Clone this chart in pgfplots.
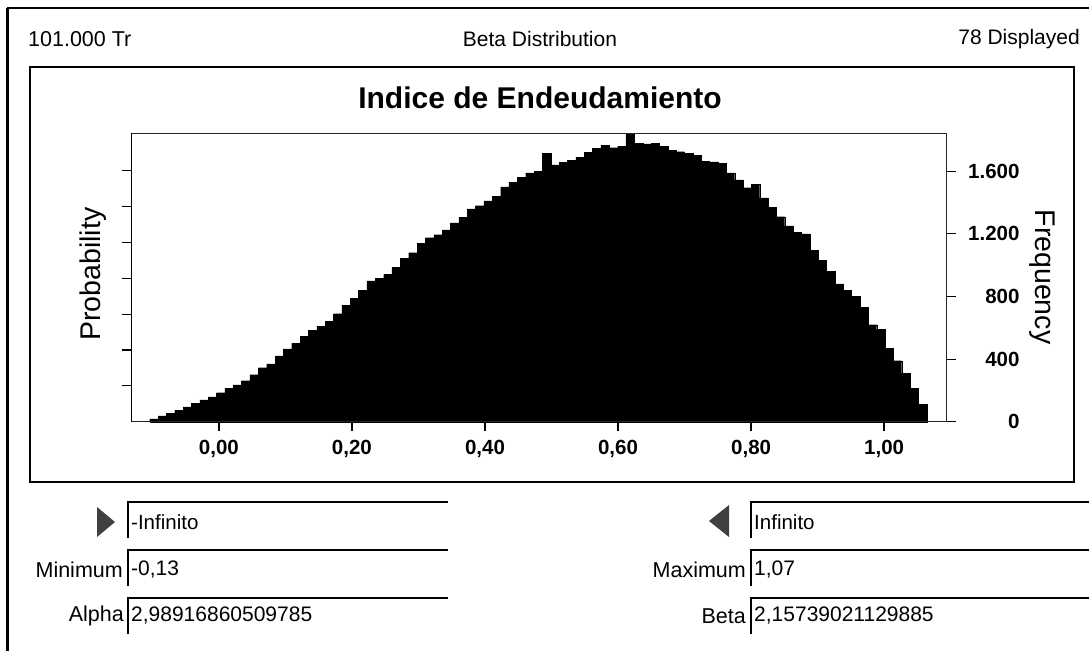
\documentclass[border=0pt]{standalone}
\usepackage{fontspec}
\setmainfont{Liberation Sans}
\usepackage{graphicx}
\usepackage{pgfplots}
\usepackage{pgfplotstable}
\pgfplotsset{compat=1.18}

\pgfplotstableread{
i f
0 18
1 38
2 55
3 72
4 95
5 118
6 140
7 158
8 185
9 215
10 235
11 262
12 300
13 345
14 370
15 420
16 465
17 500
18 545
19 585
20 610
21 640
22 690
23 745
24 790
25 840
26 900
27 915
28 940
29 985
30 1045
31 1080
32 1140
33 1175
34 1195
35 1225
36 1270
37 1305
38 1360
39 1380
40 1410
41 1440
42 1500
43 1530
44 1560
45 1590
46 1600
47 1715
48 1640
49 1655
50 1670
51 1690
52 1720
53 1745
54 1765
55 1750
56 1760
57 1842
58 1780
59 1775
60 1780
61 1760
62 1735
63 1725
64 1715
65 1700
66 1665
67 1660
68 1650
69 1590
70 1545
71 1495
72 1515
73 1430
74 1370
75 1310
76 1250
77 1210
78 1200
79 1095
80 1030
81 960
82 880
83 840
84 800
85 730
86 620
87 590
88 470
89 390
90 310
91 215
92 110
93 0
}\histdata

\begin{document}
\begin{tikzpicture}
\path[use as bounding box, fill=white] (0pt,0pt) rectangle (1089pt,-651pt);
\begin{scope}[x=1pt,y=-1pt]
  % outer window frame
  \draw[line width=3pt] (7,8) -- (7,651);
  \draw[line width=2pt] (7,8) -- (1089,8);
  % header texts
  \node[anchor=west, font=\fontsize{21.5}{21.5}\selectfont, inner sep=0pt] at (28,39) {101.000 Tr};
  \node[font=\fontsize{21}{21}\selectfont, inner sep=0pt] at (540,39) {Beta Distribution};
  \node[anchor=east, font=\fontsize{21}{21}\selectfont, inner sep=0pt] at (1080,39) {78 Displayed};
  % chart panel
  \draw[line width=1.6pt] (30,67) rectangle (1074,482);
  \node[font=\fontsize{30}{30}\selectfont\bfseries, inner sep=0pt] at (540,98) {Indice de Endeudamiento};
  % axis titles
  \node[rotate=90, font=\fontsize{28.5}{28.5}\selectfont, inner sep=0pt] at (93,274) {Probability};
  \node[rotate=-90, font=\fontsize{28.5}{28.5}\selectfont, inner sep=0pt] at (1042,277) {Frequency};
  % bottom controls, left column
  \fill[black!75] (97,507) -- (115,522) -- (97,537) -- cycle;
  \draw[line width=2pt] (128,538) -- (128,502) -- (448,502);
  \node[anchor=west, font=\fontsize{20.5}{20.5}\selectfont, inner sep=0pt] at (131,522) {-Infinito};
  \node[anchor=east, font=\fontsize{21.5}{21.5}\selectfont, inner sep=0pt] at (123,570) {Minimum};
  \draw[line width=2pt] (128,586) -- (128,550) -- (448,550);
  \node[anchor=west, font=\fontsize{21}{21}\selectfont, inner sep=0pt] at (131,570) {-0,13};
  \node[anchor=east, font=\fontsize{21.5}{21.5}\selectfont, inner sep=0pt] at (124,616) {Alpha};
  \draw[line width=2pt] (128,634) -- (128,598) -- (448,598);
  \node[anchor=west, font=\fontsize{21}{21}\selectfont, inner sep=0pt] at (131,616) {2,98916860509785};
  % bottom controls, right column
  \fill[black!75] (729,505) -- (709,521) -- (729,537) -- cycle;
  \draw[line width=2pt] (751,538) -- (751,502) -- (1089,502);
  \node[anchor=west, font=\fontsize{20.5}{20.5}\selectfont, inner sep=0pt] at (754,522) {Infinito};
  \node[anchor=east, font=\fontsize{21.5}{21.5}\selectfont, inner sep=0pt] at (746,570) {Maximum};
  \draw[line width=2pt] (751,586) -- (751,550) -- (1089,550);
  \node[anchor=west, font=\fontsize{21}{21}\selectfont, inner sep=0pt] at (754,570) {1,07};
  \node[anchor=east, font=\fontsize{21.5}{21.5}\selectfont, inner sep=0pt] at (746,616) {Beta};
  \draw[line width=2pt] (751,634) -- (751,598) -- (1089,598);
  \node[anchor=west, font=\fontsize{21}{21}\selectfont, inner sep=0pt] at (754,616) {2,15739021129885};
\end{scope}

\begin{axis}[
  at={(131.7pt,-421.7pt)}, anchor=south west,
  scale only axis, width=815pt, height=288.4pt,
  xmin=-0.131, xmax=1.094, ymin=0, ymax=1842,
  axis line style={line width=0.9pt, black!85},
  xtick={0,0.2,0.4,0.6,0.8,1.0},
  xticklabels={{0,00},{0,20},{0,40},{0,60},{0,80},{1,00}},
  ytick={0,400,800,1200,1600},
  yticklabels={0,400,800,{1.200},{1.600}},
  xtick pos=bottom, ytick pos=right,
  tick align=outside,
  major tick length=9pt,
  xtick style={line width=1.8pt, black},
  ytick style={line width=0.9pt, black},
  /pgf/number format/assume math mode=true,
  tick label style={font=\fontsize{20.5}{20.5}\selectfont\bfseries},
  xticklabel style={inner sep=0pt, yshift=-9pt},
  yticklabel style={inner sep=0pt, anchor=east, xshift=64pt},
  axis on top,
  clip=false,
]
\addplot[ybar interval, fill=black, draw=black, line width=0.2pt]
  table[x expr={-0.104+0.01256*\thisrow{i}}, y=f] {\histdata};
\end{axis}

\begin{axis}[
  at={(131.7pt,-421.7pt)}, anchor=south west,
  scale only axis, width=815pt, height=288.4pt,
  xmin=-0.131, xmax=1.094, ymin=0, ymax=1842,
  axis x line=none, axis y line*=left,
  axis line style={line width=0.9pt, black},
  ytick={229,458,687,916,1145,1374,1603},
  yticklabels={},
  tick align=outside,
  major tick length=10pt,
  ytick style={line width=1.2pt, black},
]
\end{axis}
\end{tikzpicture}
\end{document}
